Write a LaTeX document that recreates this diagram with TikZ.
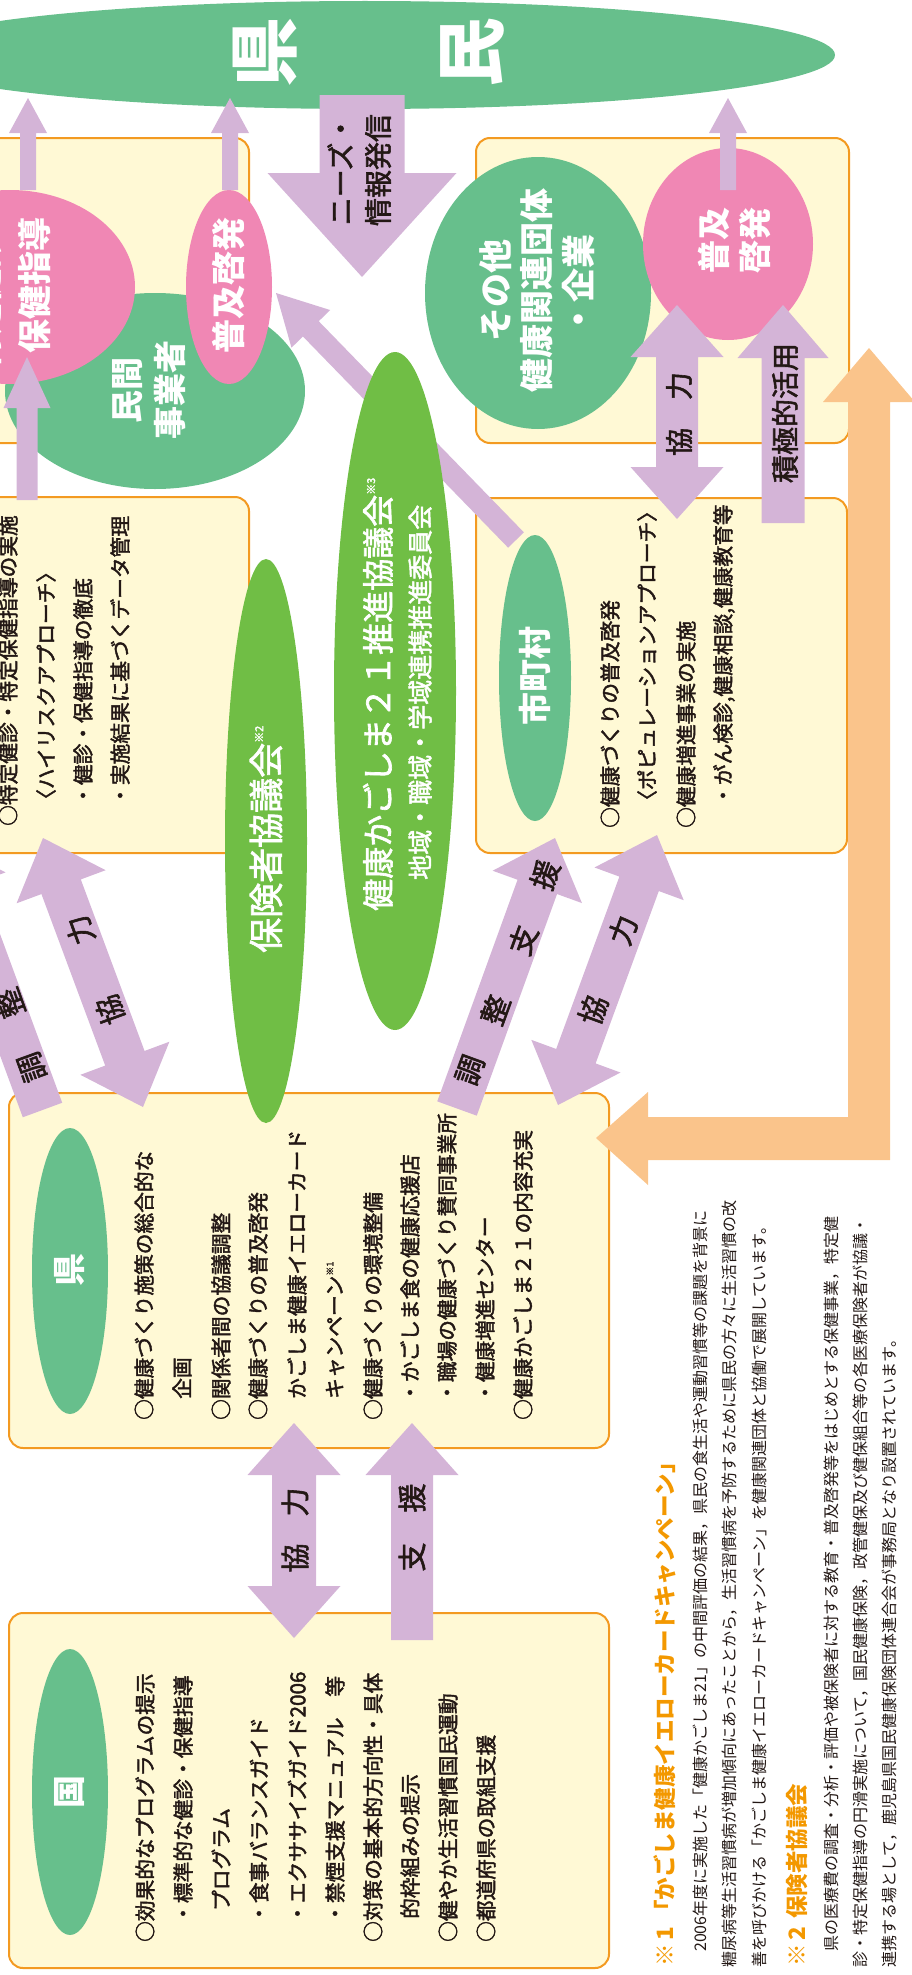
\documentclass[tikz,border=0pt]{standalone}
\usepackage{fontspec}
\setmainfont{Noto Sans CJK JP}
\newfontfamily\jpmed[FakeBold=2]{Noto Sans CJK JP}
\usetikzlibrary{calc,shapes.geometric}
\XeTeXlinebreaklocale "ja"
\XeTeXlinebreakskip=0pt plus 3pt minus 0.5pt
\definecolor{kgreen}{HTML}{67BF8C}
\definecolor{lgreen}{HTML}{70BE45}
\definecolor{kpink}{HTML}{F087B4}
\definecolor{kpurple}{HTML}{D4B4D7}
\definecolor{korange}{HTML}{FAC48B}
\definecolor{kfill}{HTML}{FFF9D5}
\definecolor{kborder}{HTML}{F39A21}
\definecolor{ktext}{HTML}{231815}
\definecolor{fnorange}{HTML}{F39800}
\newcommand\fsz[1]{\fontsize{#1pt}{#1pt}\selectfont}
% single block arrow: tail, tip, half shaft, half head, head length, style
\newcommand\blockarrow[6]{%
  \coordinate (hb) at ($(#2)!#5!(#1)$);
  \fill[#6] ($(#1)!#3!90:(#2)$) -- ($(hb)!#3!90:(#2)$) -- ($(hb)!#4!90:(#2)$) -- (#2)
    -- ($(hb)!#4!-90:(#2)$) -- ($(hb)!#3!-90:(#2)$) -- ($(#1)!#3!-90:(#2)$) -- cycle;}
% double block arrow
\newcommand\dblockarrow[6]{%
  \coordinate (hb1) at ($(#1)!#5!(#2)$);
  \coordinate (hb2) at ($(#2)!#5!(#1)$);
  \fill[#6] (#1) -- ($(hb1)!#4!90:(#2)$) -- ($(hb1)!#3!90:(#2)$) -- ($(hb2)!#3!90:(#2)$)
    -- ($(hb2)!#4!90:(#2)$) -- (#2) -- ($(hb2)!#4!-90:(#2)$) -- ($(hb2)!#3!-90:(#2)$)
    -- ($(hb1)!#3!-90:(#2)$) -- ($(hb1)!#4!-90:(#2)$) -- cycle;}
\begin{document}
\begin{tikzpicture}[x=1pt,y=-1pt,
  box/.style={draw=kborder, line width=2pt, fill=kfill, rounded corners=14pt, inner sep=0pt},
  ell/.style={ellipse, inner sep=0pt, outer sep=0pt, draw=none},
  tw/.style={rotate=90, inner sep=0pt, text=white},
  tb/.style={rotate=90, inner sep=0pt, text=ktext},
  ln/.style={tb, anchor=west, font=\jpmed\fsz{20.7}},
  fn/.style={tb, anchor=west, font=\fsz{16}},
  fh/.style={rotate=90, inner sep=0pt, anchor=west, text=fnorange, font=\fsz{22.5}\bfseries},
  al/.style={inner sep=0pt, text=ktext, font=\jpmed\fsz{29}}]
\useasboundingbox (0,0) rectangle (912,1975);
\clip (0,0) rectangle (912,1975);

% ---------- boxes
\node[box, minimum width=279pt, minimum height=305pt] (boxA) at (109.5,290.5) {};
\node[box, minimum width=373pt, minimum height=305pt] (boxB) at (662.5,290.5) {};
\node[box, minimum width=279pt, minimum height=356pt] (boxC) at (109.5,675) {};
\node[box, minimum width=371pt, minimum height=355pt] (boxD) at (661.5,675.5) {};
\node[box, minimum width=600pt, minimum height=355pt] (boxE) at (309,1270.5) {};
\node[box, minimum width=600pt, minimum height=355pt] (boxF) at (309,1790.5) {};

% ---------- big ellipse and ellipses of the upper boxes
\node[ell, fill=kgreen, minimum width=940pt, minimum height=108pt] (kenmin) at (365,55) {};
\node[ell, fill=kgreen, minimum width=300pt, minimum height=196pt] (minkan) at (155,391) {};
\node[ell, fill=kpink, minimum width=250pt, minimum height=194pt] (hoken) at (10,287) {};
\node[ell, fill=kpink, minimum width=86pt, minimum height=194pt] (fukyuL) at (229,287) {};
\node[ell, fill=kgreen, minimum width=226pt, minimum height=272pt] (sonota) at (538,293) {};
\node[ell, fill=kpink, minimum width=170pt, minimum height=192pt] (fukyuR) at (728,244) {};

% ---------- arrows towards the prefecture residents
\coordinate (u1s) at (28,190);  \coordinate (u1t) at (28,98);
\coordinate (u2s) at (230,190); \coordinate (u2t) at (230,98);
\coordinate (u3s) at (728,190); \coordinate (u3t) at (728,98);
\blockarrow{u1s}{u1t}{8pt}{19pt}{35pt}{kpurple}
\blockarrow{u2s}{u2t}{8pt}{19pt}{35pt}{kpurple}
\blockarrow{u3s}{u3t}{8pt}{19pt}{35pt}{kpurple}
\coordinate (ns) at (362,95); \coordinate (nt) at (362,277);
\blockarrow{ns}{nt}{42.5pt}{94.5pt}{104pt}{kpurple}
\coordinate (cs) at (27,500); \coordinate (ct) at (27,357);
\blockarrow{cs}{ct}{10.5pt}{23.5pt}{51pt}{kpurple}
\coordinate (ds) at (516,540); \coordinate (dt) at (276,293);
\blockarrow{ds}{dt}{11pt}{27pt}{50pt}{kpurple}

% ---------- council ellipses
\node[ell, fill=lgreen, minimum width=82pt, minimum height=564pt] (hokensha) at (266,841) {};
\node[ell, fill=lgreen, minimum width=122pt, minimum height=678pt] (suishin) at (395,691) {};
\node[ell, fill=kgreen, minimum width=72pt, minimum height=286pt] (shichoson) at (535,678) {};

% ---------- right upper arrows
\coordinate (k1a) at (677,519); \coordinate (k1b) at (677,305);
\dblockarrow{k1a}{k1b}{21pt}{46.5pt}{52pt}{kpurple}
\coordinate (sks) at (783,523); \coordinate (skt) at (783,305);
\blockarrow{sks}{skt}{21.5pt}{45.5pt}{53pt}{kpurple}

% ---------- orange L arrow
\fill[korange] (596,1138) -- (648,1092) -- (648,1117) -- (848,1117) -- (848,402) -- (823,402)
  -- (869,348) -- (915,402) -- (890,402) -- (890,1160) -- (648,1160) -- (648,1185) -- cycle;

% ---------- diagonal arrows
\coordinate (lka) at (143,1107); \coordinate (lkb) at (43,838);
\dblockarrow{lka}{lkb}{21pt}{47.5pt}{52pt}{kpurple}
\coordinate (lcs) at (42.5,1110); \coordinate (lct) at (-57,840);
\blockarrow{lcs}{lct}{21pt}{47.5pt}{52pt}{kpurple}
\coordinate (rcs) at (457,1108.5); \coordinate (rct) at (555,838);
\blockarrow{rcs}{rct}{21pt}{47.5pt}{52pt}{kpurple}
\coordinate (rka) at (558,1105); \coordinate (rkb) at (657,835);
\dblockarrow{rka}{rkb}{21pt}{47.5pt}{52pt}{kpurple}

% ---------- vertical arrows between prefecture and state
\coordinate (vka) at (294,1423); \coordinate (vkb) at (294,1638);
\dblockarrow{vka}{vkb}{22pt}{46.5pt}{52pt}{kpurple}
\coordinate (vss) at (412,1640); \coordinate (vst) at (412,1423);
\blockarrow{vss}{vst}{21pt}{46.5pt}{52pt}{kpurple}

% ---------- ellipses in lower boxes
\node[ell, fill=kgreen, minimum width=76pt, minimum height=286pt] (kenE) at (70,1271) {};
\node[ell, fill=kgreen, minimum width=76pt, minimum height=286pt] (kuniE) at (70,1792) {};

% ---------- white texts
\node[tw, font=\fsz{70}\bfseries] (tken) at (265,52) {県};
\node[tw, font=\fsz{70}\bfseries] (tmin) at (472,52) {民};
\node[tw, font=\fsz{34}\bfseries] (thk1) at (-14,285) {特定健診・};
\node[tw, font=\fsz{34}\bfseries] (thk2) at (35,285) {保健指導};
\node[tw, font=\fsz{34}\bfseries] (tfkL) at (229,285) {普及啓発};
\node[tw, font=\fsz{33}\bfseries] (tmk1) at (128,390) {民間};
\node[tw, font=\fsz{33}\bfseries] (tmk2) at (170,390) {事業者};
\node[tw, font=\fsz{34}\bfseries] (tso1) at (496,290) {その他};
\node[tw, font=\fsz{34}\bfseries] (tso2) at (537,290) {健康関連団体};
\node[tw, font=\fsz{34}\bfseries] (tso3) at (578,285) {・企業};
\node[tw, font=\fsz{33}\bfseries] (tfk1) at (714,240) {普及};
\node[tw, font=\fsz{33}\bfseries] (tfk2) at (755,240) {啓発};
\node[tw, anchor=west, font=\jpmed\fsz{35}] (thks) at (266,953) {保険者協議会\raisebox{16pt}{\fsz{11}※2}};
\node[tw, anchor=west, font=\jpmed\fsz{32}] (tss1) at (378,911) {健康かごしま２１推進協議会\raisebox{15pt}{\fsz{11}※3}};
\node[tw, anchor=west, font=\jpmed\fsz{25}] (tss2) at (420,880) {地域・職域・学域連携推進委員会};
\node[tw, font=\fsz{33}\bfseries] (tsc) at (535,676) {市町村};
\node[tw, font=\fsz{33}\bfseries] (tkenE) at (70,1270) {県};
\node[tw, font=\fsz{33}\bfseries] (tkuni) at (70,1792) {国};

% ---------- arrow labels
\node[tb, font=\jpmed\fsz{28}] (tn1) at (340,170) {ニーズ・};
\node[tb, font=\jpmed\fsz{28}] (tn2) at (378,170) {情報発信};
\node[tb, font=\jpmed\fsz{28}] (tk1) at (679,414) {協　力};
\node[tb, font=\jpmed\fsz{28}] (tsk) at (785,413) {積極的活用};
\node[al, rotate=110] (lk1) at (110,1010) {協};
\node[al, rotate=110] (lk2) at (80,930) {力};
\node[al, rotate=110] (lc1) at (32,1067) {調};
\node[al, rotate=110] (lc2) at (10,1003) {整};
\node[al, rotate=70] (rc1) at (470,1070) {調};
\node[al, rotate=70] (rc2) at (495,1010) {整};
\node[al, rotate=70] (rc3) at (523,940) {支};
\node[al, rotate=70] (rc4) at (545,875) {援};
\node[al, rotate=70] (rk1) at (593,1010) {協};
\node[al, rotate=70] (rk2) at (623,930) {力};
\node[al, rotate=90] (vk1) at (295,1558) {協};
\node[al, rotate=90] (vk2) at (295,1502) {力};
\node[al, rotate=90] (vs1) at (412,1557) {支};
\node[al, rotate=90] (vs2) at (412,1498) {援};

% ---------- box C text
\node[ln] (c1) at (8,826) {○特定健診・特定保健指導の実施};
\node[ln] (c2) at (46,810) {〈ハイリスクアプローチ〉};
\node[ln] (c3) at (83,806) {・健診・保健指導の徹底};
\node[ln] (c4) at (120,806) {・実施結果に基づくデータ管理};
% ---------- box D text
\node[ln] (d1) at (610,828) {○健康づくりの普及啓発};
\node[ln] (d2) at (647,811) {〈ポピュレーションアプローチ〉};
\node[ln] (d3) at (686,828) {○健康増進事業の実施};
\node[ln] (d4) at (724,806) {・がん検診,健康相談,健康教育等};
% ---------- prefecture box text
\node[ln] (e1) at (144,1420) {\makebox[293pt][s]{○健康づくり施策の総合的な}};
\node[ln] (e2) at (182,1399) {企画};
\node[ln] (e3) at (221,1420) {○関係者間の協議調整};
\node[ln] (e4) at (258,1420) {○健康づくりの普及啓発};
\node[ln] (e5) at (297,1399) {かごしま健康イエローカード};
\node[ln] (e6) at (335,1399) {キャンペーン\raisebox{9pt}{\fsz{9}※1}};
\node[ln] (e7) at (373,1420) {○健康づくりの環境整備};
\node[ln] (e8) at (410,1403) {・かごしま食の健康応援店};
\node[ln] (e9) at (447,1403) {・職場の健康づくり賛同事業所};
\node[ln] (e10) at (485,1403) {・健康増進センター};
\node[ln] (e11) at (523,1420) {○健康かごしま２１の内容充実};
% ---------- state box text
\node[ln] (f1) at (145,1942) {○効果的なプログラムの提示};
\node[ln] (f2) at (183,1924) {・標準的な健診・保健指導};
\node[ln] (f3) at (221,1911) {プログラム};
\node[ln] (f4) at (259,1924) {・食事バランスガイド};
\node[ln] (f5) at (297,1924) {・エクササイズガイド2006};
\node[ln] (f6) at (335,1924) {・禁煙支援マニュアル　等};
\node[ln] (f7) at (373,1942) {○対策の基本的方向性・具体};
\node[ln] (f8) at (410,1919) {的枠組みの提示};
\node[ln] (f9) at (448,1942) {○健やか生活習慣国民運動};
\node[ln] (f10) at (486,1942) {○都道府県の取組支援};

% ---------- footnotes
\node[fh] (h1) at (665,1967) {※\hspace{4pt}1\hspace{4pt}「かごしま健康イエローカードキャンペーン」};
\node[fn] (n1a) at (701,1968) {\makebox[768pt][s]{　2006年度に実施した「健康かごしま21」の中間評価の結果，県民の食生活や運動習慣等の課題を背景に}};
\node[fn] (n1b) at (730,1968) {\makebox[768pt][s]{糖尿病等生活習慣病が増加傾向にあったことから，生活習慣病を予防するために県民の方々に生活習慣の改}};
\node[fn] (n1c) at (759,1968) {善を呼びかける「かごしま健康イエローカードキャンペーン」を健康関連団体と協働で展開しています。};
\node[fh] (h2) at (797,1967) {※\hspace{4pt}2\hspace{8pt}保険者協議会};
\node[fn] (n2a) at (832,1968) {\makebox[768pt][s]{　県の医療費の調査・分析・評価や被保険者に対する教育・普及啓発等をはじめとする保健事業，特定健}};
\node[fn] (n2b) at (861,1968) {\makebox[768pt][s]{診・特定保健指導の円滑実施について，国民健康保険，政管健保及び健保組合等の各医療保険者が協議・}};
\node[fn] (n2c) at (890,1968) {連携する場として，鹿児島県国民健康保険団体連合会が事務局となり設置されています。};
\end{tikzpicture}
\end{document}
